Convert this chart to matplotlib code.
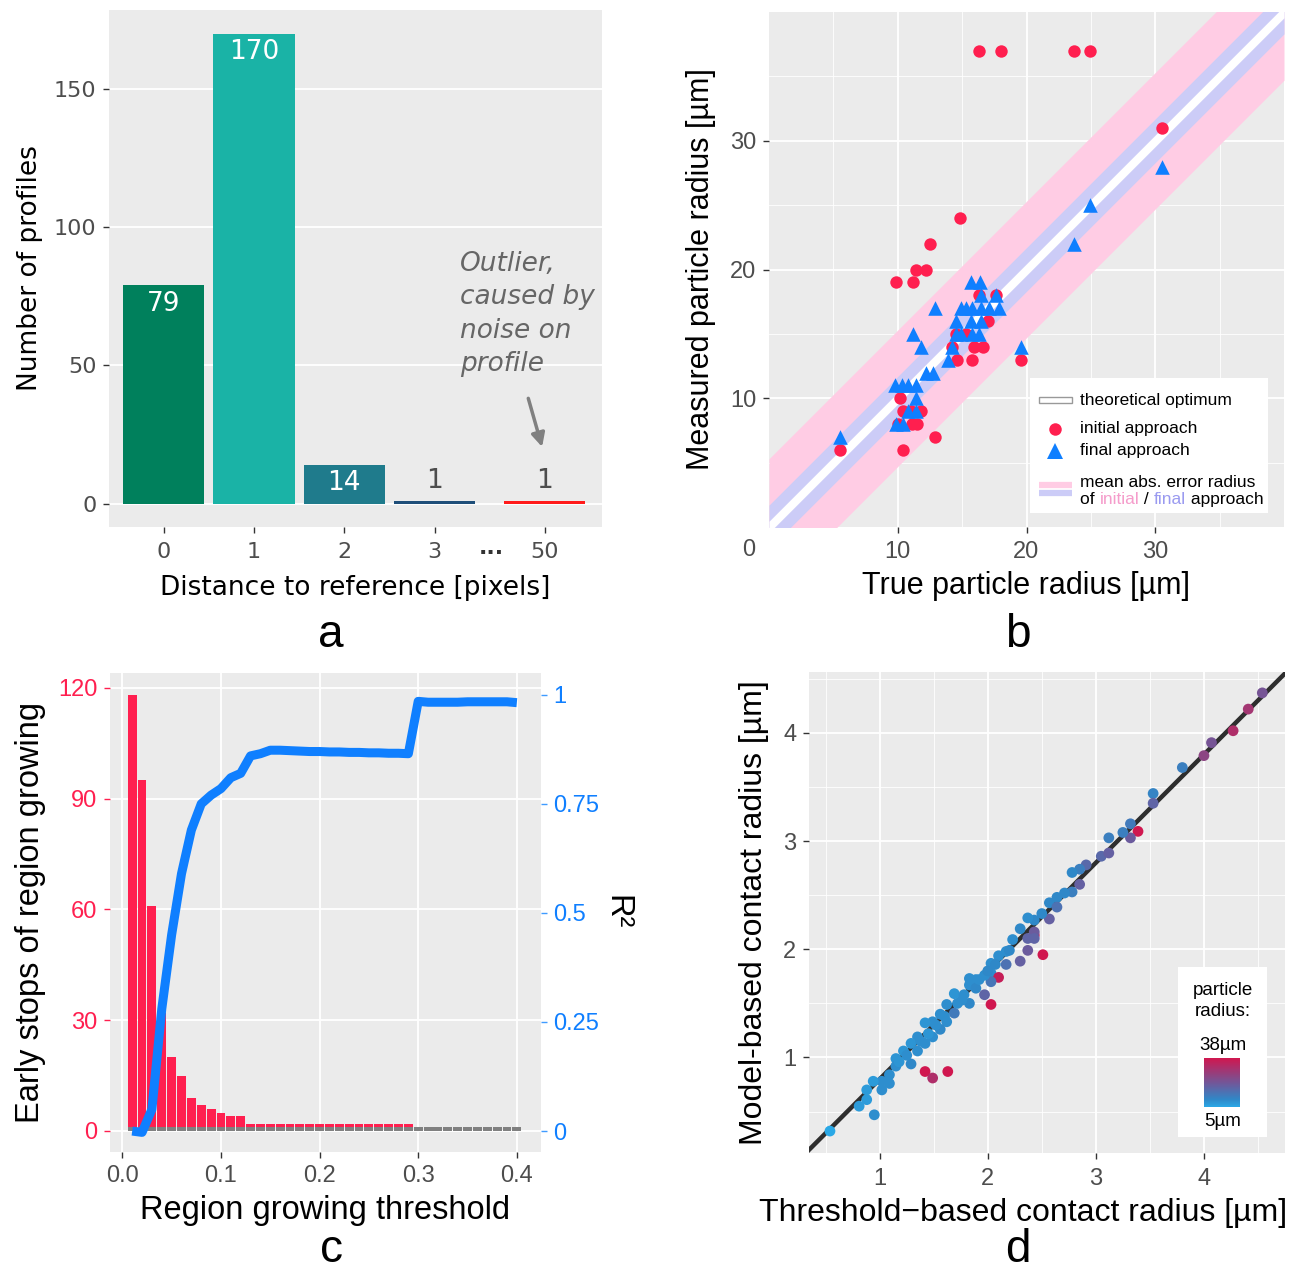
import numpy as np
import matplotlib
matplotlib.use("Agg")
import matplotlib.pyplot as plt
from matplotlib.patches import Rectangle
from matplotlib.lines import Line2D
from matplotlib.colors import LinearSegmentedColormap, Normalize
from matplotlib.colorbar import ColorbarBase

plt.rcParams['font.family'] = ['Liberation Sans', 'DejaVu Sans']

# ---------------- data ----------------
# panel a
dist_labels = ["0", "1", "2", "3", "50"]
dist_pos = [0, 1, 2, 3, 4.22]
dist_counts = [79, 170, 14, 1, 1]
dist_colors = ["#00805c", "#1ab3a6", "#1f7b8c", "#1e4e79", "#ff1a1a"]

# panel b
init_x = [16.3, 18.0, 23.7, 24.9, 30.5, 14.8, 12.5, 11.4, 12.2, 9.9, 11.2, 19.6, 15.8, 14.6,
          15.9, 16.6, 14.2, 17.0, 16.3, 17.6, 14.5, 15.3, 10.2, 10.4, 11.8, 11.0, 10.0, 11.1,
          11.5, 12.9, 10.4, 5.5]
init_y = [37, 37, 37, 37, 31, 24, 22, 20, 20, 19, 19, 13, 13, 13,
          14, 14, 14, 16, 18, 18, 15, 15, 10, 9, 9, 9, 8, 8,
          8, 7, 6, 6]
final_x = [5.5, 30.5, 24.9, 23.7, 15.7, 16.4, 16.5, 17.6, 12.9, 14.9, 15.3, 15.8, 16.5, 17.1,
           17.9, 14.5, 15.7, 16.5, 11.2, 14.5, 14.9, 15.8, 16.3, 11.8, 14.2, 19.6, 13.9, 12.2,
           12.7, 9.8, 10.3, 10.8, 11.4, 11.4, 10.8, 11.4, 9.9, 10.4]
final_y = [7, 28, 25, 22, 19, 19, 18, 18, 17, 17, 17, 17, 17, 17,
           17, 16, 16, 16, 15, 15, 15, 15, 15, 14, 14, 14, 13, 12,
           12, 11, 11, 11, 11, 10, 9, 9, 8, 8]
mae_initial = 5.3
mae_final = 1.7

# panel c
thresholds = [0.01, 0.02, 0.03, 0.04, 0.05, 0.06, 0.07, 0.08, 0.09, 0.10,
              0.11, 0.12, 0.13, 0.14, 0.15, 0.16, 0.17, 0.18, 0.19, 0.20,
              0.21, 0.22, 0.23, 0.24, 0.25, 0.26, 0.27, 0.28, 0.29, 0.30,
              0.31, 0.32, 0.33, 0.34, 0.35, 0.36, 0.37, 0.38, 0.39, 0.40]
early_stops = [118, 95, 61, 32, 20, 15, 9, 7, 6, 5,
               4, 4, 2, 2, 2, 2, 2, 2, 2, 2,
               2, 2, 2, 2, 2, 2, 2, 2, 2, 0,
               0, 0, 0, 0, 0, 0, 0, 0, 0, 0]
r2 = [0.00, -0.003, 0.05, 0.28, 0.45, 0.59, 0.69, 0.75, 0.77, 0.785,
      0.81, 0.82, 0.86, 0.865, 0.873, 0.873, 0.872, 0.871, 0.870, 0.870,
      0.869, 0.869, 0.868, 0.868, 0.867, 0.867, 0.866, 0.866, 0.865, 0.985,
      0.983, 0.983, 0.983, 0.983, 0.984, 0.984, 0.984, 0.984, 0.984, 0.982]
zero_marker_height = 1.2

# panel d
thr_radius = [4.54, 4.41, 4.27, 4.07, 4.00, 3.80, 3.53, 3.53, 3.32, 3.39, 3.32, 3.25, 3.12, 3.05,
              3.12, 2.91, 2.85, 2.78, 2.85, 2.78, 2.71, 2.64, 2.57, 2.64, 2.57, 2.50, 2.43, 2.37,
              2.43, 2.43, 2.43, 2.30, 2.37, 2.23, 2.37, 2.51, 2.17, 2.10, 2.17, 2.30, 2.03, 2.03,
              2.10, 2.03, 1.97, 1.89, 1.83, 1.83, 1.89, 1.97, 2.03, 1.83, 1.76, 1.69, 1.62, 1.69,
              1.56, 1.62, 1.49, 1.42, 1.56, 1.49, 1.35, 1.42, 1.29, 1.35, 1.22, 1.29, 1.15, 1.15,
              1.09, 1.09, 1.02, 0.94, 1.02, 0.88, 0.88, 0.81, 0.95, 0.54, 1.42, 1.49, 1.63,
              1.25, 1.38, 1.52, 1.60, 1.72, 1.78, 1.45, 1.18, 1.92, 2.00, 2.07, 2.20]
model_radius = [4.37, 4.22, 4.02, 3.91, 3.79, 3.68, 3.44, 3.35, 3.16, 3.09, 3.03, 3.08, 3.03, 2.86,
                2.89, 2.78, 2.74, 2.71, 2.60, 2.53, 2.52, 2.48, 2.43, 2.39, 2.28, 2.33, 2.27, 2.29,
                2.13, 2.16, 2.10, 2.19, 2.10, 2.09, 1.99, 1.95, 1.98, 1.94, 1.86, 1.89, 1.87, 1.78,
                1.74, 1.70, 1.76, 1.72, 1.73, 1.67, 1.64, 1.58, 1.49, 1.50, 1.53, 1.59, 1.49, 1.41,
                1.40, 1.33, 1.33, 1.32, 1.26, 1.19, 1.19, 1.13, 1.13, 1.06, 1.06, 0.94, 0.99, 0.92,
                0.84, 0.76, 0.78, 0.78, 0.70, 0.70, 0.61, 0.55, 0.47, 0.32, 0.87, 0.81, 0.87,
                1.02, 1.15, 1.30, 1.38, 1.50, 1.58, 1.22, 0.96, 1.72, 1.80, 1.86, 1.99]
particle_radius = [22, 30, 32, 22, 26, 12, 11, 18, 13, 38, 20, 12, 12, 17,
                   19, 17, 12, 10, 19, 12, 10, 10, 10, 15, 19, 10, 10, 9,
                   35, 20, 18, 10, 18, 9, 20, 38, 9, 9, 15, 19, 9, 9,
                   36, 14, 9, 9, 9, 9, 10, 18, 38, 10, 9, 8, 9, 13,
                   9, 9, 9, 8, 10, 9, 9, 9, 8, 9, 8, 10, 8, 9,
                   9, 9, 9, 7, 9, 7, 7, 7, 9, 5, 38, 32, 38,
                   9, 9, 9, 9, 9, 9, 8, 8, 9, 10, 10, 10]
fit_slope = 1.0
fit_intercept = -0.2

# ---------------- layout ----------------
W, H = 1305, 1273
fig = plt.figure(figsize=(W / 100, H / 100), dpi=100)


def rect(l, t, r, b):
    return [l / W, 1 - b / H, (r - l) / W, (b - t) / H]


BG = "#ebebeb"
TICKC = "#4d4d4d"


def style(ax):
    ax.set_facecolor(BG)
    for s in ax.spines.values():
        s.set_visible(False)
    ax.tick_params(length=4, width=1, color="#333333", labelcolor=TICKC, pad=5)
    ax.set_axisbelow(True)


# ---------------- panel a ----------------
axA = fig.add_axes(rect(109, 10, 602, 527))
style(axA)
axA.bar(dist_pos, dist_counts, width=0.9, color=dist_colors)
axA.set_xlim(-0.606, 4.855)
axA.set_ylim(-8.5, 178.5)
axA.set_yticks([0, 50, 100, 150])
axA.set_xticks(dist_pos)
axA.set_xticklabels(dist_labels, fontsize=16, family='DejaVu Sans')
axA.set_yticklabels(["0", "50", "100", "150"], fontsize=16, family='DejaVu Sans')
axA.tick_params(axis='x', pad=7)
axA.grid(axis='y', color='white', lw=1.3)
axA.grid(axis='x', visible=False)
for p, c in zip(dist_pos, dist_counts):
    if c >= 10:
        axA.annotate(str(c), (p, c), xytext=(0, -4), textcoords='offset points',
                     ha='center', va='top', color='white', fontsize=19, family='DejaVu Sans')
    else:
        axA.annotate(str(c), (p, c), xytext=(0, 5), textcoords='offset points',
                     ha='center', va='bottom', color='#4d4d4d', fontsize=19, family='DejaVu Sans')
axA.text(3.63, -0.05, "···", transform=axA.get_xaxis_transform(), ha='center', va='center',
         fontsize=16, fontweight='bold', color='#333333', family='DejaVu Sans')
axA.text(3.28, 91.5, "Outlier,\ncaused by\nnoise on\nprofile", ha='left', va='top',
         fontsize=19, style='italic', color='#666666', family='DejaVu Sans', linespacing=1.38)
axA.annotate("", xy=(4.2, 19.5), xytext=(4.03, 39),
             arrowprops=dict(arrowstyle='-|>,head_length=0.8,head_width=0.4', color='#808080', lw=2.5))
axA.set_xlabel("Distance to reference [pixels]", fontsize=19, family='DejaVu Sans', labelpad=9)
axA.set_ylabel("Number of profiles", fontsize=19, family='DejaVu Sans', labelpad=8)

# ---------------- panel b ----------------
axB = fig.add_axes(rect(769, 12, 1284, 527))
style(axB)
lims = [0, 40]
xs = np.array(lims)
axB.fill_between(xs, xs - mae_initial, xs + mae_initial, color='#ffcce4', lw=0, zorder=1)
axB.fill_between(xs, xs - mae_final, xs + mae_final, color='#ccccf7', lw=0, zorder=1.1)
axB.fill_between(xs, xs - 0.45, xs + 0.45, color='white', lw=0, zorder=1.2)
axB.scatter(init_x, init_y, s=80, marker='o', color='#ff1f4f', zorder=3, lw=0)
axB.scatter(final_x, final_y, s=110, marker='^', color='#0f7fff', zorder=4, lw=0)
axB.set_xlim(lims)
axB.set_ylim(lims)
axB.set_xticks([10, 20, 30])
axB.set_yticks([10, 20, 30])
axB.set_xticks([5, 15, 25, 35], minor=True)
axB.set_yticks([5, 15, 25, 35], minor=True)
axB.tick_params(which='minor', length=0)
axB.tick_params(labelsize=17)
axB.tick_params(axis='x', pad=6)
axB.grid(which='major', color='white', lw=1.3)
axB.grid(which='minor', color='white', lw=0.6)
axB.text(-0.039, -0.045, "0", transform=axB.transAxes, ha='center', va='center',
         fontsize=17, color=TICKC)
axB.set_xlabel("True particle radius [µm]", fontsize=22, labelpad=6)
axB.set_ylabel("Measured particle radius [µm]", fontsize=22, labelpad=10)

# legend for b
legB = fig.add_axes(rect(1030, 378, 1268, 513))
legB.set_xlim(0, 238)
legB.set_ylim(135, 0)
legB.set_facecolor('white')
legB.set_xticks([])
legB.set_yticks([])
for s in legB.spines.values():
    s.set_visible(False)
legB.add_patch(Rectangle((9, 19), 33, 6, facecolor='white', edgecolor='#999999', lw=1))
legB.add_line(Line2D([25], [51], marker='o', ms=9, color='#ff1f4f', lw=0, mew=0))
legB.add_line(Line2D([25], [73], marker='^', ms=11, color='#0f7fff', lw=0, mew=0))
legB.add_line(Line2D([9, 42], [107, 107], color='#ffcce4', lw=4.5, solid_capstyle='butt'))
legB.add_line(Line2D([9, 42], [115, 115], color='#ccccf7', lw=4.5, solid_capstyle='butt'))
lf = 12.5
legB.text(50, 22, "theoretical optimum", fontsize=lf, va='center')
legB.text(50, 51, "initial approach", fontsize=lf, va='center')
legB.text(50, 72, "final approach", fontsize=lf, va='center')
legB.text(50, 104, "mean abs. error radius", fontsize=lf, va='center')
t0 = legB.text(50, 121, "of ", fontsize=lf, va='center')
t1 = legB.annotate("initial", xy=(1, 0), xycoords=t0, va='bottom', fontsize=lf, color='#f59ccb')
t2 = legB.annotate(" / ", xy=(1, 0), xycoords=t1, va='bottom', fontsize=lf, color='black')
t3 = legB.annotate("final", xy=(1, 0), xycoords=t2, va='bottom', fontsize=lf, color='#9a9af0')
legB.annotate(" approach", xy=(1, 0), xycoords=t3, va='bottom', fontsize=lf, color='black')

# ---------------- panel c ----------------
axC = fig.add_axes(rect(110, 673, 541, 1152))
style(axC)
axC.bar(thresholds, early_stops, width=0.009, color='#ff1f4f', zorder=2)
axC.bar(thresholds, [zero_marker_height] * len(thresholds), width=0.009, color='#808080', zorder=2.5)
axC.set_xlim(-0.0125, 0.4245)
axC.set_ylim(-5.69, 124.06)
axC.set_yticks([0, 30, 60, 90, 120])
axC.set_xticks([0.0, 0.1, 0.2, 0.3, 0.4])
axC.set_xticklabels(["0.0", "0.1", "0.2", "0.3", "0.4"])
axC.tick_params(labelsize=17)
axC.tick_params(axis='x', pad=5)
axC.tick_params(axis='y', colors='#ff1f4f', labelcolor='#ff1f4f')
axC.grid(color='white', lw=1.3)
axC.set_xlabel("Region growing threshold", fontsize=23.5, labelpad=6)
axC.set_ylabel("Early stops of region growing", fontsize=23.5, labelpad=9)
axC2 = axC.twinx()
axC2.patch.set_visible(False)
for s in axC2.spines.values():
    s.set_visible(False)
axC2.plot(thresholds, r2, color='#0f7fff', lw=6.5, solid_joinstyle='round', solid_capstyle='butt', zorder=5)
axC2.set_ylim(-0.048, 1.05)
axC2.set_yticks([0, 0.25, 0.5, 0.75, 1])
axC2.set_yticklabels(["0", "0.25", "0.5", "0.75", "1"])
axC2.tick_params(axis='y', length=4, width=1, colors='#3f9bff', labelcolor='#0f7fff', labelsize=17, pad=5)
axC2.set_ylabel("R²", fontsize=23.5, rotation=270, labelpad=24)

# ---------------- panel d ----------------
axD = fig.add_axes(rect(809, 672, 1285, 1153))
style(axD)
cmap = LinearSegmentedColormap.from_list(
    'pr', [(0.0, '#2aa8e6'), (0.15, '#2f88c8'), (0.45, '#6a5c9e'), (1.0, '#d0174f')])
norm = Normalize(5, 38)
axD.axline((0, fit_intercept), slope=fit_slope, color='#2e2e2e', lw=3.2, zorder=2)
axD.scatter(thr_radius, model_radius, c=particle_radius, cmap=cmap, norm=norm, s=60, lw=0, zorder=3)
axD.set_xlim(0.346, 4.75)
axD.set_ylim(0.117, 4.563)
axD.set_xticks([1, 2, 3, 4])
axD.set_yticks([1, 2, 3, 4])
axD.set_xticks([0.5, 1.5, 2.5, 3.5, 4.5], minor=True)
axD.set_yticks([0.5, 1.5, 2.5, 3.5, 4.5], minor=True)
axD.tick_params(which='minor', length=0)
axD.tick_params(labelsize=17)
axD.tick_params(axis='x', pad=7)
axD.grid(which='major', color='white', lw=1.3)
axD.grid(which='minor', color='white', lw=0.6)
axD.set_xlabel("Threshold\u2212based contact radius [µm]", fontsize=23)
axD.xaxis.set_label_coords((1023 - 809) / 476, -0.093)
axD.set_ylabel("Model-based contact radius [µm]", fontsize=23, labelpad=10)

legD = fig.add_axes(rect(1178, 967, 1267, 1137))
legD.set_facecolor('white')
legD.set_xticks([])
legD.set_yticks([])
for s in legD.spines.values():
    s.set_visible(False)
legD.text(0.5, 1 - 34 / 170, "particle\nradius:", transform=legD.transAxes, ha='center', va='center',
          fontsize=13.5, linespacing=1.3)
legD.text(0.5, 1 - 79 / 170, "38µm", transform=legD.transAxes, ha='center', va='center', fontsize=13.5)
legD.text(0.5, 1 - 155 / 170, "5µm", transform=legD.transAxes, ha='center', va='center', fontsize=13.5)
cax = fig.add_axes(rect(1204, 1058, 1240, 1107))
cb = ColorbarBase(cax, cmap=cmap, norm=norm, orientation='vertical')
cb.outline.set_visible(False)
cax.set_yticks([])

# panel letters
for lab, (px, py, va) in zip("abcd", [(331, 647, 'baseline'), (1018, 647, 'baseline'),
                                      (331, 1272, 'bottom'), (1018, 1272, 'bottom')]):
    fig.text(px / W, 1 - py / H, lab, ha='center', va=va, fontsize=33)

fig.savefig("out.png", dpi=100)
